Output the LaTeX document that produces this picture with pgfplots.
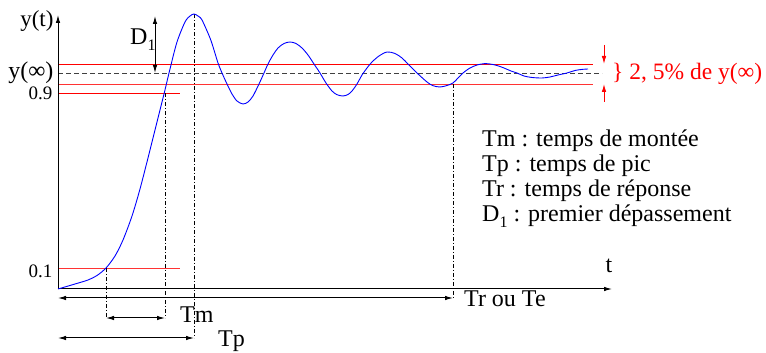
\documentclass[border=0pt]{standalone}
\usepackage{fontspec}
\setmainfont{Liberation Serif}
\usepackage{pgfplots}
\pgfplotsset{compat=1.18}
\usetikzlibrary{arrows.meta}
\newcommand{\sub}[1]{\raisebox{-0.5ex}{\fontsize{16}{16}\selectfont #1}}
\begin{document}
\begin{tikzpicture}
\begin{axis}[x=1pt,y=1pt,xmin=0,xmax=766,ymin=0,ymax=352,hide axis,clip=false,
  scale only axis, enlargelimits=false]
\tikzset{ar/.style={-{Latex[length=8pt,width=4.5pt]}},
         dar/.style={{Latex[length=8pt,width=4.5pt]}-{Latex[length=8pt,width=4.5pt]}},
         dd/.style={black,line width=0.7pt,dash pattern=on 4pt off 2pt on 1pt off 2pt}}
\addplot[draw=none] coordinates {(0,0) (766,352)};
% reference levels
\addplot[red,line width=0.9pt] coordinates {(58,288) (593,288)};
\addplot[red!80,line width=0.9pt] coordinates {(58,268) (593,268)};
\addplot[red,line width=0.9pt] coordinates {(58,259) (180,259)};
\addplot[red!80,line width=0.9pt] coordinates {(58,84) (180,84)};
\addplot[black!75,line width=0.9pt,dash pattern=on 5pt off 3pt] coordinates {(58,279) (602,279)};
% dash-dot verticals
\addplot[dd] coordinates {(106,84) (106,34)};
\addplot[dd] coordinates {(165,259) (165,34)};
\addplot[dd] coordinates {(194,338) (194,14)};
\addplot[dd] coordinates {(453,268) (453,54)};
% axes
\addplot[black,line width=1pt,ar] coordinates {(58,63) (58,337)};
\addplot[black,line width=1pt,ar] coordinates {(58,63) (612,63)};
% time arrows
\addplot[black,line width=1pt,dar] coordinates {(58,54) (453,54)};
\addplot[black,line width=1pt,dar] coordinates {(106,34) (165,34)};
\addplot[black,line width=1pt,dar] coordinates {(58,14) (194,14)};
\addplot[black,line width=1pt,dar] coordinates {(155,336) (155,279)};
% tolerance arrows
\addplot[red,line width=0.9pt,ar] coordinates {(604,307) (604,288)};
\addplot[red,line width=0.9pt,ar] coordinates {(604,250) (604,268)};
% response
\addplot[blue,line width=0.9pt,smooth,tension=0.5] table {
x y
58 63
75 68
88 72
97 76.5
106 84
115 96
123 112
132 136
140 163
149 198
157 230
164 258
170 283
177 310
185 330
190 336
194 338
198 336
202 332
210 314
214 302
218 289
222 279
227 268
232 258
237 251
243 248
248 250
253 256
259 268
264 279
268 288
273 297
278 304
284 308.5
290 310
296 308.5
302 304
308 297
314 288
320 279
326 269
332 261
337 257.3
343 256
348 257.5
352 261
357 268
362 277
367 284
372 290
379 296
387 300
395 298.5
402 294
408 288
417 279
427 270
433 266.3
440 265
447 266.5
453 269
458 274
463 279
470 284
477 287
484 288.3
490 288
497 286.5
504 284
511 281
517 279
524 276
532 274.5
542 274
550 275
558 277
567 279
575 281.5
582 282.6
588 283
};
% labels
\node[anchor=base east,font=\fontsize{23}{27}\selectfont] at (axis cs:57,325) {y(t)};
\node[anchor=base east,font=\fontsize{24}{28}\selectfont] at (axis cs:57,273) {y(∞)};
\node[anchor=base east,font=\fontsize{19}{22}\selectfont] at (axis cs:56,252) {0.9};
\node[anchor=base east,font=\fontsize{19}{22}\selectfont] at (axis cs:56,74) {0.1};
\node[anchor=base west,font=\fontsize{24}{28}\selectfont,inner sep=0pt] at (axis cs:130,307) {D\sub{1}};
\node[anchor=base,font=\fontsize{24}{28}\selectfont] at (axis cs:609,79) {t};
\node[anchor=base west,font=\fontsize{24}{28}\selectfont,inner sep=0pt] at (axis cs:180,29) {Tm};
\node[anchor=base west,font=\fontsize{24}{28}\selectfont,inner sep=0pt] at (axis cs:218,5) {Tp};
\node[anchor=base west,font=\fontsize{24}{28}\selectfont,inner sep=0pt] at (axis cs:464,45) {Tr ou Te};
\node[anchor=base west,font=\fontsize{23.5}{28}\selectfont,inner sep=0pt,text=red] at (axis cs:612,272) {\} 2, 5\% de y(∞)};
\node[anchor=base west,font=\fontsize{24}{28}\selectfont,inner sep=0pt] at (axis cs:482,205) {Tm : temps de montée};
\node[anchor=base west,font=\fontsize{24}{28}\selectfont,inner sep=0pt] at (axis cs:482,180) {Tp : temps de pic};
\node[anchor=base west,font=\fontsize{24}{28}\selectfont,inner sep=0pt] at (axis cs:482,155) {Tr : temps de réponse};
\node[anchor=base west,font=\fontsize{24}{28}\selectfont,inner sep=0pt] at (axis cs:482,130) {D\sub{1} : premier dépassement};
\end{axis}
\end{tikzpicture}
\end{document}
